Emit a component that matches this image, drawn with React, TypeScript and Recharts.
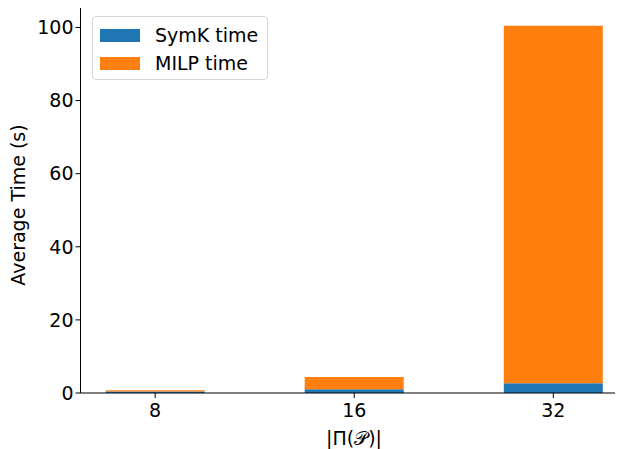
import { Bar, BarChart, ReferenceLine, XAxis, YAxis } from "recharts"

// values
const categories = ["8", "16", "32"]
const symkTime = [0.4, 1.0, 2.7]
const milpTime = [0.35, 3.4, 97.8]
const yTicks = [0, 20, 40, 60, 80, 100]
const yMax = 105.6
const xLabel = "|Π(𝒫)|"

const series = [
  { key: "symk", name: "SymK time", color: "#1f77b4" },
  { key: "milp", name: "MILP time", color: "#ff7f0e" },
]

const data = categories.map((c, i) => ({
  idx: i,
  label: c,
  symk: symkTime[i],
  milp: milpTime[i],
}))

const font = "'DejaVu Sans', sans-serif"

// matplotlib-like legend box, drawn over the plot
const LegendBox = () => (
  <div
    style={{
      position: "absolute",
      left: 92,
      top: 16,
      width: 174,
      height: 62,
      border: "1px solid #d6d6d6",
      borderRadius: 4,
      background: "rgba(255,255,255,0.8)",
      fontFamily: font,
      fontSize: 19,
      color: "#000",
    }}
  >
    {series.map((s, i) => (
      <div key={s.key} style={{ position: "absolute", left: 7, top: 4 + i * 28, height: 28, display: "flex", alignItems: "center" }}>
        <span style={{ display: "inline-block", width: 40, height: 13, background: s.color, marginRight: 15 }} />
        <span style={{ lineHeight: "28px", whiteSpace: "nowrap" }}>{s.name}</span>
      </div>
    ))}
  </div>
)

export default function App() {
  return (
    <div style={{ margin: "-8px 0 0 -8px", width: 623, height: 449, overflow: "hidden", background: "#fff", position: "relative" }}>
      <BarChart
        width={640}
        height={449}
        data={data}
        margin={{ top: 7, right: 12, left: 0, bottom: 0 }}
      >
        <XAxis
          dataKey="idx"
          type="number"
          domain={[-0.375, 2.375]}
          ticks={[0, 1, 2]}
          tickFormatter={(v: number) => categories[v]}
          height={56}
          stroke="#000"
          tickSize={5}
          tickMargin={6}
          tick={{ fill: "#000", fontSize: 19, fontFamily: font }}
        />
        <YAxis
          type="number"
          domain={[0, yMax]}
          ticks={yTicks}
          width={80.5}
          stroke="#000"
          tickSize={5}
          tickMargin={2}
          tick={{ fill: "#000", fontSize: 19, fontFamily: font }}
          label={{
            value: "Average Time (s)",
            angle: -90,
            position: "center",
            dx: -22,
            dy: 5,
            fill: "#000",
            fontSize: 19,
            fontFamily: font,
          }}
        />
        <ReferenceLine y={yMax} stroke="#000" />
        {series.map((s) => (
          <Bar
            key={s.key}
            dataKey={s.key}
            name={s.name}
            stackId="a"
            fill={s.color}
            barSize={99}
            isAnimationActive={false}
          />
        ))}
      </BarChart>
      <div
        style={{
          position: "absolute",
          left: 254,
          width: 200,
          top: 426,
          textAlign: "center",
          fontFamily: font,
          fontSize: 19,
          lineHeight: "24px",
          color: "#000",
          whiteSpace: "nowrap",
        }}
      >
        {xLabel}
      </div>
      <LegendBox />
    </div>
  )
}
